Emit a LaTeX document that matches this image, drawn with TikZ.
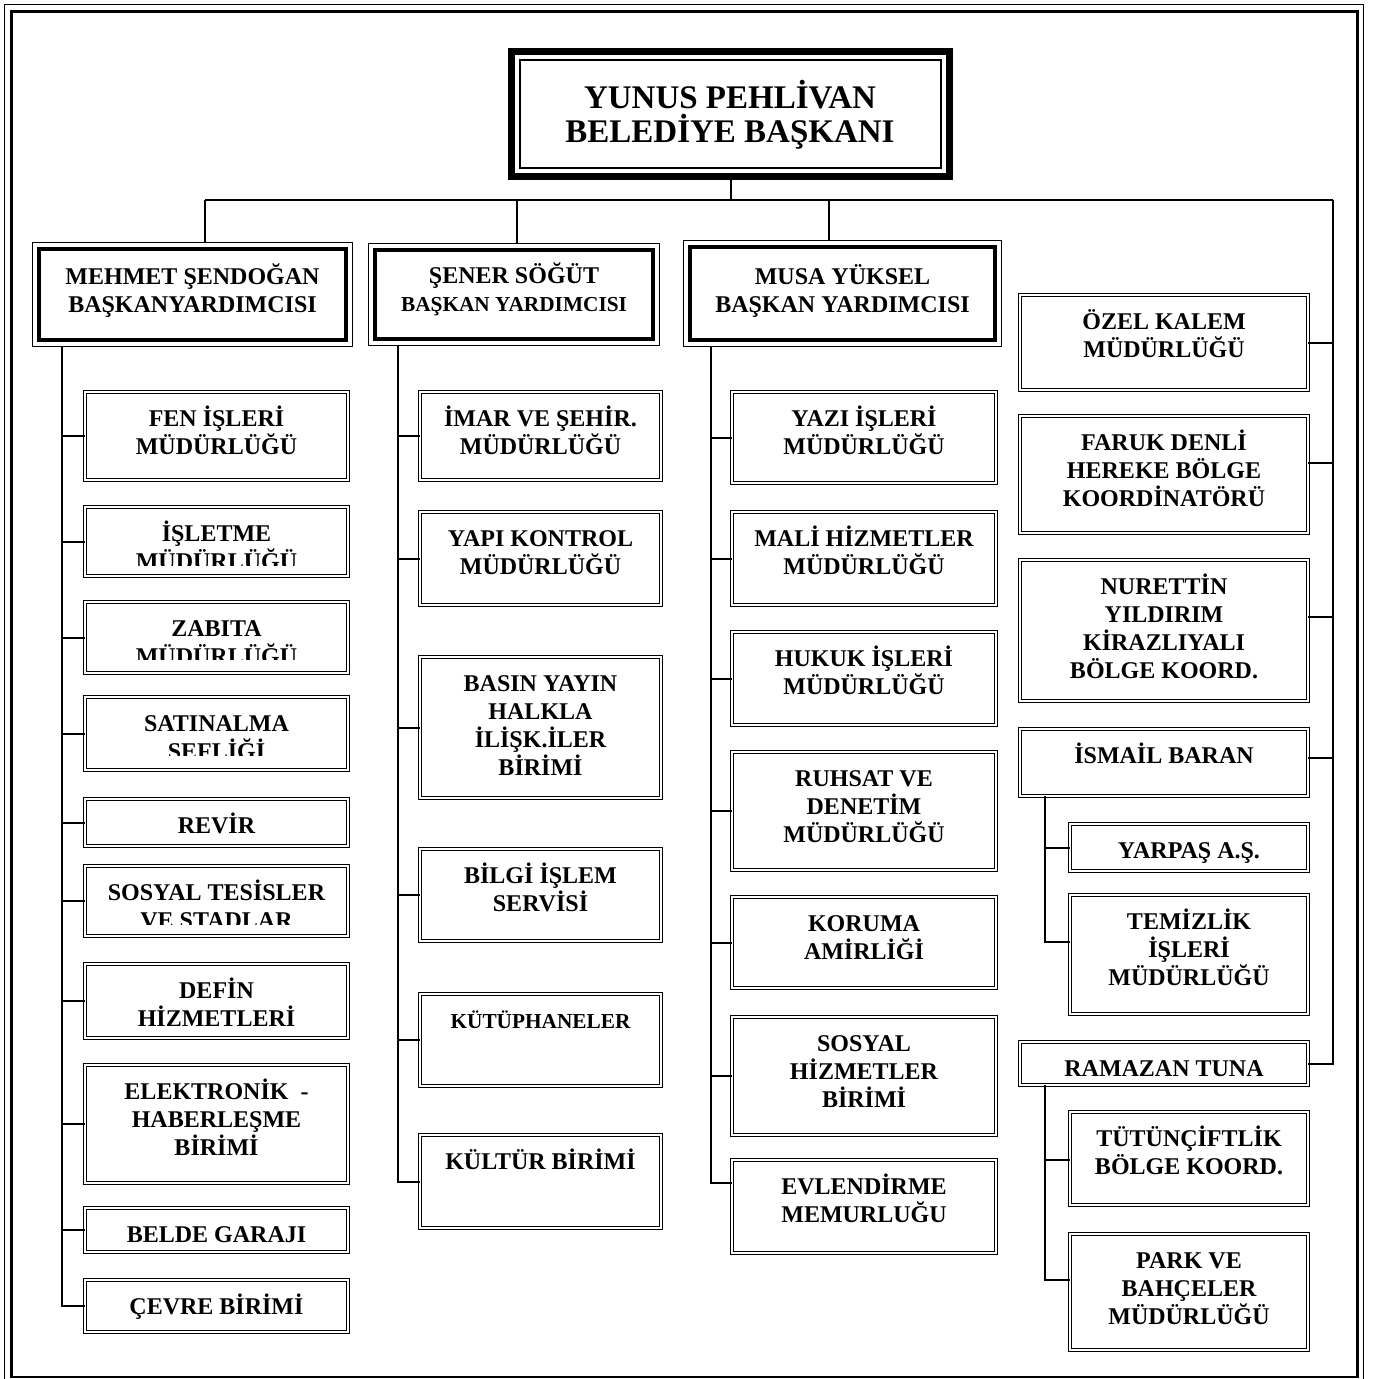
\documentclass[tikz,border=0pt]{standalone}
\usepackage{fontspec}
\setmainfont{Liberation Serif}
\usetikzlibrary{calc}
\tikzset{
  conn/.style={line width=2pt},
  subbox/.style={draw, line width=1.1pt, double=white, double distance=1.8pt, inner sep=0pt, outer sep=0pt},
  mgrbox/.style={draw, line width=4pt, inner sep=0pt, outer sep=0pt},
  titlebox/.style={draw, line width=7pt, inner sep=0pt, outer sep=0pt},
  btext/.style={inner sep=0pt, outer sep=0pt, align=center, font=\fontsize{24}{28}\selectfont\bfseries},
  mtext/.style={inner sep=0pt, outer sep=0pt, align=center, font=\fontsize{24}{28}\selectfont\bfseries},
  ttext/.style={inner sep=0pt, outer sep=0pt, align=center, font=\fontsize{33}{34}\selectfont\bfseries},
}
\newcommand\ubox[6]{%
  \node[subbox, minimum width={#4pt-#2pt-4pt}, minimum height={#5pt-#3pt-4pt}] (#1) at ({(#2+#4)/2},{(#3+#5)/2}) {};
  \node[btext, anchor=north] (#1-t) at ({(#2+#4)/2},{#3+13}) {\rule{0pt}{23pt}#6};}
\newcommand\uboxc[7]{%
  \node[subbox, minimum width={#4pt-#2pt-4pt}, minimum height={#5pt-#3pt-4pt}] (#1) at ({(#2+#4)/2},{(#3+#5)/2}) {};
  \begin{scope}
    \clip (#2,#3) rectangle (#4,{#5-#7});
    \node[btext, anchor=north] (#1-t) at ({(#2+#4)/2},{#3+13}) {\rule{0pt}{23pt}#6};
  \end{scope}}
\newcommand\mgr[7]{%
  \node[mgrbox, minimum width={#4pt-#2pt-14pt}, minimum height={#5pt-#3pt-14pt}] (#1) at ({(#2+#4)/2},{(#3+#5)/2}) {};
  \draw[line width=1.2pt] ($(#1.north west)+(-6.4,-6.4)$) rectangle ($(#1.south east)+(6.4,6.4)$);
  \node[mtext, anchor=north] (#1-t) at ({(#2+#4)/2},{#7}) {\rule{0pt}{22pt}#6};}
\begin{document}
\begin{tikzpicture}[x=1pt,y=-1pt]
\useasboundingbox (0,0) rectangle (1375,1379);
\fill[white] (0,0) rectangle (1375,1379);
% outer frame
\draw[line width=1.5pt] (4.5,4.5) rectangle (1363.5,1386);
\draw[line width=2.6pt] (11.5,11.5) rectangle (1357.5,1377);

% title
\node[titlebox, minimum width=438pt, minimum height=125pt] (title) at (730.5,114) {};
\draw[line width=1.5pt] ($(title.north west)+(8.5,8.5)$) rectangle ($(title.south east)+(-8.5,-8.5)$);
\node[ttext, anchor=north] (title-t) at (730,80) {\rule{0pt}{27pt}YUNUS PEHLİVAN\\BELEDİYE BAŞKANI};

% managers
\mgr{m1}{32}{242}{353}{347}{MEHMET ŞENDOĞAN\\BAŞKANYARDIMCISI}{262}
\mgr{m2}{368}{243}{660}{346}{ŞENER SÖĞÜT\\{\fontsize{21.3}{28}\selectfont BAŞKAN YARDIMCISI}}{261}
\mgr{m3}{683}{240}{1002}{347}{MUSA YÜKSEL\\BAŞKAN YARDIMCISI}{262}

% column 1
\ubox{fen}{83}{390}{350}{482}{FEN İŞLERİ\\MÜDÜRLÜĞÜ}
\uboxc{islt}{83}{505}{350}{578}{İŞLETME\\MÜDÜRLÜĞÜ}{13}
\uboxc{zab}{83}{600}{350}{675}{ZABITA\\MÜDÜRLÜĞÜ}{16}
\uboxc{sat}{83}{695}{350}{772}{SATINALMA\\ŞEFLİĞİ}{17}
\ubox{rev}{83}{797}{350}{848}{REVİR}
\uboxc{sos}{83}{864}{350}{938}{SOSYAL TESİSLER\\VE STADLAR}{14}
\ubox{def}{83}{962}{350}{1040}{DEFİN\\HİZMETLERİ}
\ubox{elk}{83}{1063}{350}{1185}{ELEKTRONİK\ \ -\\HABERLEŞME\\BİRİMİ}
\ubox{bel}{83}{1206}{350}{1254}{BELDE GARAJI}
\ubox{cev}{83}{1278}{350}{1334}{ÇEVRE BİRİMİ}

% column 2
\ubox{imar}{418}{390}{663}{482}{İMAR VE ŞEHİR.\\MÜDÜRLÜĞÜ}
\ubox{yapi}{418}{510}{663}{607}{YAPI KONTROL\\MÜDÜRLÜĞÜ}
\ubox{bas}{418}{655}{663}{800}{BASIN YAYIN\\HALKLA\\İLİŞK.İLER\\BİRİMİ}
\ubox{bil}{418}{847}{663}{943}{BİLGİ İŞLEM\\SERVİSİ}
\ubox{kut}{418}{992}{663}{1088}{\fontsize{21.3}{28}\selectfont KÜTÜPHANELER}
\ubox{kul}{418}{1133}{663}{1230}{KÜLTÜR BİRİMİ}

% column 3
\ubox{yaz}{730}{390}{998}{485}{YAZI İŞLERİ\\MÜDÜRLÜĞÜ}
\ubox{mal}{730}{510}{998}{607}{MALİ HİZMETLER\\MÜDÜRLÜĞÜ}
\ubox{huk}{730}{630}{998}{727}{HUKUK İŞLERİ\\MÜDÜRLÜĞÜ}
\ubox{ruh}{730}{750}{998}{872}{RUHSAT VE\\DENETİM\\MÜDÜRLÜĞÜ}
\ubox{kor}{730}{895}{998}{990}{KORUMA\\AMİRLİĞİ}
\ubox{shz}{730}{1015}{998}{1137}{SOSYAL\\HİZMETLER\\BİRİMİ}
\ubox{evl}{730}{1158}{998}{1255}{EVLENDİRME\\MEMURLUĞU}

% column 4
\ubox{oze}{1018}{293}{1310}{392}{ÖZEL KALEM\\MÜDÜRLÜĞÜ}
\ubox{far}{1018}{414}{1310}{535}{FARUK DENLİ\\HEREKE BÖLGE\\KOORDİNATÖRÜ}
\ubox{nur}{1018}{558}{1310}{703}{NURETTİN\\YILDIRIM\\KİRAZLIYALI\\BÖLGE KOORD.}
\ubox{ism}{1018}{727}{1310}{798}{İSMAİL BARAN}
\ubox{yar}{1068}{822}{1310}{873}{YARPAŞ A.Ş.}
\ubox{tem}{1068}{893}{1310}{1016}{TEMİZLİK\\İŞLERİ\\MÜDÜRLÜĞÜ}
\ubox{ram}{1018}{1040}{1310}{1087}{RAMAZAN TUNA}
\ubox{tut}{1068}{1110}{1310}{1207}{TÜTÜNÇİFTLİK\\BÖLGE KOORD.}
\ubox{prk}{1068}{1232}{1310}{1352}{PARK VE\\BAHÇELER\\MÜDÜRLÜĞÜ}

% bus
\coordinate (busL) at (205,200);
\coordinate (busR) at (1333,200);
\coordinate (d2) at (517,200);
\coordinate (d3) at (829,200);
\draw[conn] (title.south) -- (title.south |- busL);
\draw[conn] (busL) -- (busR);
\draw[conn] (busL) -- ($(m1.north -| busL)+(0,-6.4)$);
\draw[conn] (d2) -- ($(m2.north -| d2)+(0,-6.4)$);
\draw[conn] (d3) -- ($(m3.north -| d3)+(0,-6.4)$);

% column 1 spine
\coordinate (s1) at (62,347);
\draw[conn] (s1) |- (cev.west);
\foreach \n in {fen,islt,zab,sat,rev,sos,def,elk,bel}
  \draw[conn] (s1 |- \n.west) -- (\n.west);

% column 2 spine
\coordinate (s2) at (398,346);
\draw[conn] (s2) |- (kul.west);
\foreach \n in {imar,yapi,bas,bil,kut}
  \draw[conn] (s2 |- \n.west) -- (\n.west);

% column 3 spine
\coordinate (s3) at (711,347);
\draw[conn] (s3) |- (evl.west |- 0,1183);
\foreach \n in {yaz,mal,huk,ruh,kor,shz}
  \draw[conn] (s3 |- \n.west) -- (\n.west);

% column 4 spine
\draw[conn] (busR) |- (ram.east);
\draw[conn] (oze.east |- 0,343) -- (busR |- 0,343);
\draw[conn] (far.east |- 0,463) -- (busR |- 0,463);
\draw[conn] (nur.east |- 0,617) -- (busR |- 0,617);
\draw[conn] (ism.east |- 0,758) -- (busR |- 0,758);

% sub spines
\coordinate (i1) at (ism.south -| 1045,0);
\draw[conn] (i1) |- (tem.west |- 0,942);
\draw[conn] (i1 |- yar.west) -- (yar.west);
\coordinate (r1) at (ram.south -| 1045,0);
\draw[conn] (r1) |- (prk.west |- 0,1280);
\draw[conn] (r1 |- 0,1160) -- (tut.west |- 0,1160);
\end{tikzpicture}
\end{document}
